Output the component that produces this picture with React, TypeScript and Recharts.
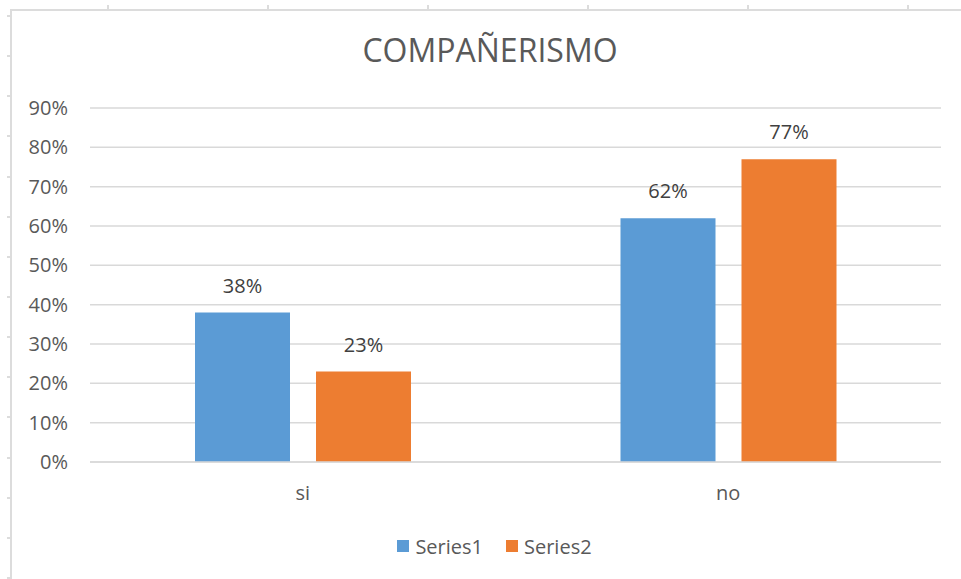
import React from "react";
import { BarChart, Bar, XAxis, YAxis, CartesianGrid, Legend, LabelList } from "recharts";

const categories = ["si", "no"];
const series1 = [38, 62];
const series2 = [23, 77];
const yTicks = [0, 10, 20, 30, 40, 50, 60, 70, 80, 90];
const seriesNames = ["Series1", "Series2"];
const title = "COMPAÑERISMO";

const data = categories.map((c, i) => ({ name: c, s1: series1[i], s2: series2[i] }));

const FONT = "'Open Sans', sans-serif";
const BLUE = "#5B9BD5";
const ORANGE = "#ED7D31";
const TEXT = "#595959";
const SHEET = "#DCDCDC";

const LegendContent = () => (
  <div
    style={{
      display: "flex",
      justifyContent: "center",
      alignItems: "center",
      height: 40,
      paddingLeft: 28,
      fontFamily: FONT,
      fontSize: 20,
      color: TEXT,
    }}
  >
    {[BLUE, ORANGE].map((c, i) => (
      <div key={i} style={{ display: "flex", alignItems: "center", marginRight: i === 0 ? 23 : 0 }}>
        <div style={{ width: 12, height: 12, background: c, marginRight: 6 }} />
        <span>{seriesNames[i]}</span>
      </div>
    ))}
  </div>
);

export default function App() {
  const topTicks = [107, 267, 427, 587, 747, 907];
  const leftTicks: number[] = [];
  for (let y = 15; y < 579; y += 40.15) leftTicks.push(Math.round(y));
  return (
    <div style={{ position: "absolute", left: 0, top: 0, width: 961, height: 579, background: "#fff", overflow: "hidden" }}>
      <div style={{ position: "absolute", left: 10, top: 9, width: 951, height: 2, background: SHEET }} />
      <div style={{ position: "absolute", left: 10, top: 9, width: 2, height: 570, background: SHEET }} />
      {topTicks.map((x) => (
        <div key={"t" + x} style={{ position: "absolute", left: x, top: 5, width: 2, height: 5, background: SHEET }} />
      ))}
      {leftTicks.map((y) => (
        <div key={"l" + y} style={{ position: "absolute", left: 7, top: y, width: 4, height: 2, background: SHEET }} />
      ))}
      <div
        style={{
          position: "absolute",
          left: 0,
          top: 34,
          width: 980,
          textAlign: "center",
          fontFamily: FONT,
          fontSize: 32,
          lineHeight: "32px",
          color: TEXT,
        }}
      >
        {title}
      </div>
      <div style={{ position: "absolute", left: 0, top: 0 }}>
        <BarChart
          width={961}
          height={579}
          data={data}
          margin={{ top: 108, right: 20, bottom: 37, left: 0 }}
          barGap={26}
          barCategoryGap={105}
        >
          <CartesianGrid vertical={false} stroke="#D9D9D9" strokeWidth={1.5} />
          <XAxis
            dataKey="name"
            height={40}
            tickLine={false}
            tickSize={0}
            tickMargin={24}
            axisLine={{ stroke: "#D9D9D9", strokeWidth: 1.5 }}
            tick={{ fill: TEXT, fontFamily: FONT, fontSize: 20 }}
          />
          <YAxis
            width={90}
            domain={[0, 90]}
            ticks={yTicks}
            interval={0}
            axisLine={false}
            tickLine={false}
            tickSize={0}
            tickMargin={22}
            tickFormatter={(v: number) => `${v}%`}
            tick={{ fill: TEXT, fontFamily: FONT, fontSize: 20 }}
          />
          <Legend
            verticalAlign="bottom"
            height={40}
            content={<LegendContent />}
            wrapperStyle={{ left: 0, width: 961, bottom: 13 }}
          />
          <Bar dataKey="s1" name={seriesNames[0]} fill={BLUE} isAnimationActive={false}>
            <LabelList
              dataKey="s1"
              position="top"
              offset={20}
              formatter={(v: number) => `${v}%`}
              style={{ fill: "#404040", fontFamily: FONT, fontSize: 20 }}
            />
          </Bar>
          <Bar dataKey="s2" name={seriesNames[1]} fill={ORANGE} isAnimationActive={false}>
            <LabelList
              dataKey="s2"
              position="top"
              offset={20}
              formatter={(v: number) => `${v}%`}
              style={{ fill: "#404040", fontFamily: FONT, fontSize: 20 }}
            />
          </Bar>
        </BarChart>
      </div>
    </div>
  );
}
